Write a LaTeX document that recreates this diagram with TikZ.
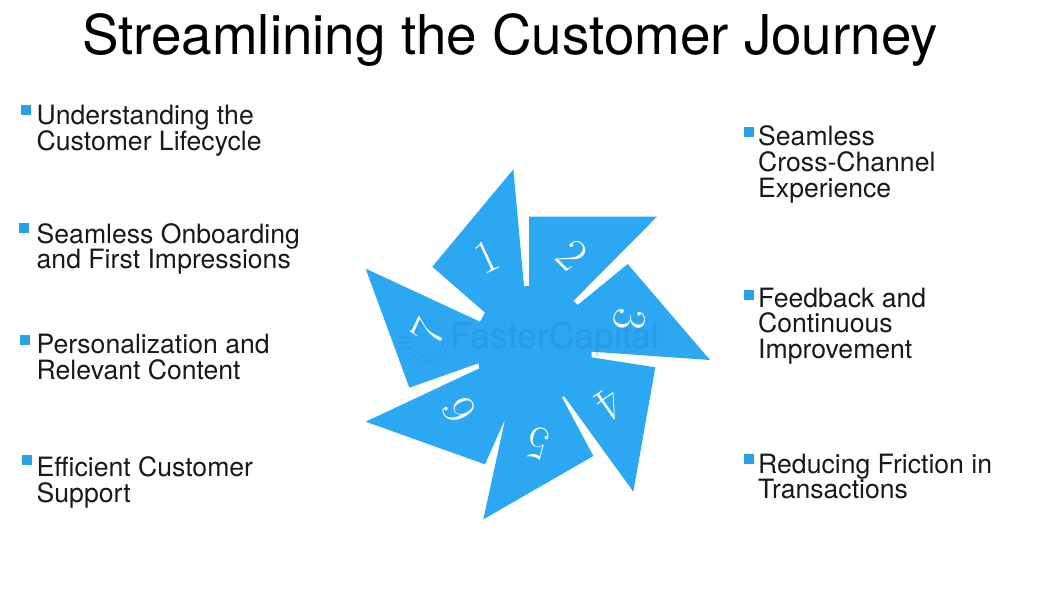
\documentclass[tikz,border=0pt]{standalone}
\usepackage{fontspec}
\setmainfont{TeX Gyre Heros}
\newfontfamily\digitfont{Latin Modern Roman}
\definecolor{blade}{HTML}{2CA8F3}
\definecolor{mark}{HTML}{27A0EA}
\definecolor{wm}{HTML}{1A70B0}
\tikzset{
 x=1pt,y=-1pt,
 item/.style={anchor=west,align=left,font=\fontsize{26.6}{25.7}\selectfont,text=black!90,inner sep=0pt},
 bulletbox/.style={fill=mark,minimum size=10pt,inner sep=0pt,draw=none},
 digit/.style={font=\digitfont\fontsize{47}{47}\selectfont,text=white,inner sep=0pt},
}
\begin{document}
\begin{tikzpicture}
\useasboundingbox (0,0) rectangle (1056,611);
\fill[white] (0,0) rectangle (1056,611);
\node[font=\fontsize{54.8}{55}\selectfont,inner sep=0pt,text=black] (title) at (510,40) {Streamlining the Customer Journey};
% pinwheel
\def\Z#1#2{({350+#1/3},{160+#2/3})}
\fill[blade] \Z{490}{28} -- \Z{522}{378} -- \Z{537}{378} -- \Z{537}{170} -- \Z{921}{170} -- \Z{670}{423} -- \Z{683}{435} -- \Z{833}{312} -- \Z{1080}{600} -- \Z{725}{575} -- \Z{725}{592} -- \Z{916}{622} -- \Z{850}{995} -- \Z{642}{708} -- \Z{636}{712} -- \Z{730}{888} -- \Z{400}{1078} -- \Z{478}{720} -- \Z{490}{722} -- \Z{405}{913} -- \Z{47}{785} -- \Z{388}{625} -- \Z{385}{610} -- \Z{178}{683} -- \Z{47}{326} -- \Z{390}{485} -- \Z{405}{458} -- \Z{247}{320} -- cycle;
% watermark
\node[inner sep=0pt,text=wm,text opacity=.22,font=\fontsize{35.5}{36}\selectfont] (wmark) at (555,339) {FasterCapital};
\begin{scope}[draw opacity=.22]
\draw[wm,line width=.6pt] (428,341) circle (16);
\draw[wm,line width=2pt,dash pattern=on 2pt off 3pt] (428,341) circle (20);
\draw[wm,line width=.8pt] (398,337) -- (412,337) (396,342) -- (410,342) (398,347) -- (412,347);
\end{scope}
% digits
\node[digit,rotate=25] (d1) at (487,257) {1};
\node[digit,rotate=-45] (d2) at (572,255) {2};
\node[digit,rotate=-95] (d3) at (630,320) {3};
\node[digit,rotate=-145] (d4) at (610,405) {4};
\node[digit,rotate=-195] (d5) at (538,443) {5};
\node[digit,rotate=-245] (d6) at (459,410) {6};
\node[digit,rotate=-295] (d7) at (428,332) {7};
% left column
\node[bulletbox] (b1) at (26,110) {};
\node[item] (t1) at (36.5,131) {Understanding the\\Customer Lifecycle};
\node[bulletbox] (b2) at (24,228) {};
\node[item] (t2) at (36.5,249) {Seamless Onboarding\\and First Impressions};
\node[bulletbox] (b3) at (25,340) {};
\node[item] (t3) at (36.5,357) {Personalization and\\Relevant Content};
\node[bulletbox] (b4) at (27,460) {};
\node[item] (t4) at (36.5,482.5) {Efficient Customer\\Support};
% right column
\node[bulletbox] (b5) at (749,132) {};
\node[item] (t5) at (758,164.5) {Seamless\\Cross-Channel\\Experience};
\node[bulletbox] (b6) at (749,295) {};
\node[item] (t6) at (758,326) {Feedback and\\Continuous\\Improvement};
\node[bulletbox] (b7) at (749,459) {};
\node[item] (t7) at (758,476.5) {Reducing Friction in\\Transactions};
\end{tikzpicture}
\end{document}
